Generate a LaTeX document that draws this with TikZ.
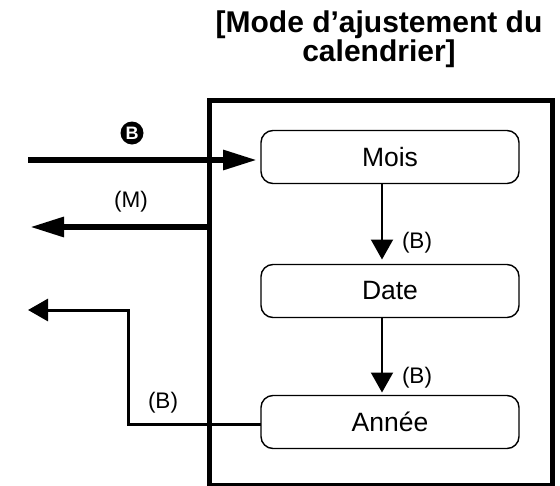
\documentclass[tikz,border=0pt]{standalone}
\usepackage{fontspec}
\setmainfont{Liberation Sans}
\usetikzlibrary{arrows.meta}
\begin{document}
\begin{tikzpicture}[x=1pt,y=-1pt,
  stepbox/.style={draw, line width=1.4pt, rounded corners=12pt, minimum width=258pt,
    minimum height=53pt, inner sep=0pt, outer sep=0pt, font=\fontsize{26.5}{30}\selectfont},
  lbl/.style={font=\fontsize{22.5}{26}\selectfont, inner sep=0pt},
  bigarrow/.style={line width=6pt, -{Triangle[length=34pt,width=19pt]}},
  smallarrow/.style={line width=2pt, -{Triangle[length=20pt,width=22pt]}}
]
\useasboundingbox (0,0) rectangle (560,485);
\node[font=\bfseries\fontsize{30}{29.5}\selectfont, align=center, inner sep=0pt] (title) at (379,39)
  {[Mode d’ajustement du\\calendrier]};
\node[draw, line width=5pt, minimum width=343pt, minimum height=385pt, inner sep=0pt,
  outer sep=0pt, anchor=north west] (frame) at (209,100) {};
\node[stepbox] (mois) at (390,157) {Mois};
\node[stepbox] (date) at (390,291) {Date};
\node[stepbox] (annee) at (390,422) {Année};
% incoming arrow
\coordinate (in1) at (28,160);
\draw[bigarrow, shorten >=4pt] (in1) -- (in1 -| mois.west);
\node[circle, fill=black, text=white, inner sep=0pt, minimum size=23pt,
  font=\bfseries\fontsize{18}{18}\selectfont] (bkey) at (132,133) {B};
% (M) outgoing arrow
\coordinate (out1) at (30,227);
\draw[bigarrow] (out1 -| frame.west) -- (out1);
\node[lbl] (mlbl) at (131,202) {(M)};
% vertical arrows
\draw[smallarrow, shorten >=5pt] ([xshift=-8pt]mois.south) -- ([xshift=-8pt]date.north);
\node[lbl] (b1) at (417,243) {(B)};
\draw[smallarrow, shorten >=3pt] ([xshift=-8pt]date.south) -- ([xshift=-8pt]annee.north);
\node[lbl] (b2) at (417,378) {(B)};
% exit from Annee
\coordinate (bend1) at (128,424);
\coordinate (bend2) at (128,310);
\coordinate (out2) at (28,310);
\draw[smallarrow, line width=3pt] (annee.west |- bend1) -- (bend1) -- (bend2) -- (out2);
\node[lbl] (b3) at (163,403) {(B)};
\end{tikzpicture}
\end{document}
